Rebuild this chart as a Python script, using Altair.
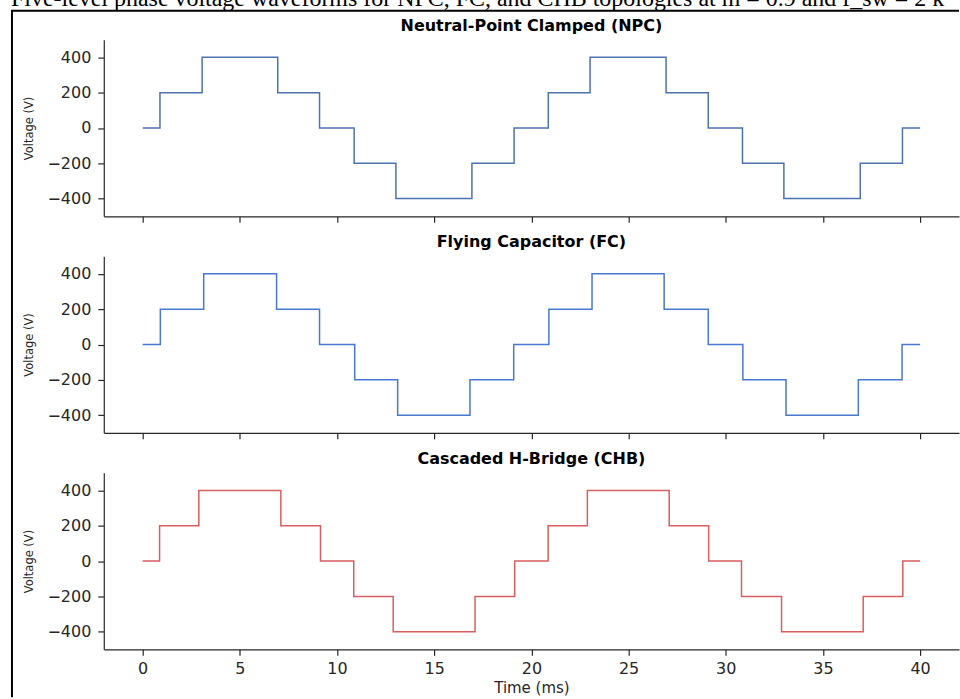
import altair as alt
import pandas as pd

# ---- data ----
t_npc = [0, 0.89, 3.06, 6.95, 9.10, 10.88, 13.03, 16.94, 19.11, 20.87, 23.02, 26.93, 29.10, 30.86, 32.99, 36.92, 39.09, 40]
v_npc = [0, 200, 400, 200, 0, -200, -400, -200, 0, 200, 400, 200, 0, -200, -400, -200, 0, 0]

t_fc = [0, 0.91, 3.14, 6.89, 9.10, 10.91, 13.12, 16.84, 19.09, 20.90, 23.12, 26.83, 29.10, 30.88, 33.10, 36.82, 39.07, 40]
v_fc = [0, 200, 400, 200, 0, -200, -400, -200, 0, 200, 400, 200, 0, -200, -400, -200, 0, 0]

t_chb = [0, 0.87, 2.89, 7.11, 9.15, 10.86, 12.89, 17.10, 19.14, 20.86, 22.88, 27.09, 29.12, 30.81, 32.87, 37.07, 39.11, 40]
v_chb = [0, 200, 400, 200, 0, -200, -400, -200, 0, 200, 400, 200, 0, -200, -400, -200, 0, 0]

titles = ["Neutral-Point Clamped (NPC)", "Flying Capacitor (FC)", "Cascaded H-Bridge (CHB)"]
colors = ["#4c72b0", "#4878d0", "#d65f5f"]
x_ticks = [0, 5, 10, 15, 20, 25, 30, 35, 40]
y_ticks = [-400, -200, 0, 200, 400]
caption = "Five-level phase voltage waveforms for NPC, FC, and CHB topologies at m = 0.9 and f_sw = 2 kHz"

W, H = 857, 177
AX = "#262626"
one = pd.DataFrame({"k": [0]})


def panel(times, volts, color, title, bottom):
    df = pd.DataFrame({"t": times, "v": volts})
    if bottom:
        xaxis = alt.Axis(values=x_ticks, title="Time (ms)", titleFontSize=15, titlePadding=4)
    else:
        xaxis = alt.Axis(values=x_ticks, labels=False, title=None)
    line = alt.Chart(df).mark_line(interpolate="step-after", color=color, strokeWidth=1.5).encode(
        x=alt.X("t:Q", scale=alt.Scale(domain=[-2, 42], nice=False, zero=False), axis=xaxis),
        y=alt.Y("v:Q", scale=alt.Scale(domain=[-500, 500], nice=False, zero=False),
                axis=alt.Axis(values=y_ticks, title="Voltage (V)", titleFontSize=11.5,
                              titlePadding=12, labelPadding=7)),
    )
    ttl = alt.Chart(one).mark_text(text=title, font="DejaVu Sans", fontSize=16, fontWeight="bold",
                                   align="center", baseline="middle", color="black").encode(
        x=alt.value(W / 2), y=alt.value(-14))
    return line, ttl


l1, t1 = panel(t_npc, v_npc, colors[0], titles[0], False)
l2, t2 = panel(t_fc, v_fc, colors[1], titles[1], False)
l3, t3 = panel(t_chb, v_chb, colors[2], titles[2], True)

frame_left = alt.Chart(one).mark_rule(color="black", strokeWidth=2).encode(
    x=alt.value(-92), y=alt.value(-463), y2=alt.value(225))
frame_top = alt.Chart(one).mark_rule(color="black", strokeWidth=2).encode(
    x=alt.value(-93), x2=alt.value(857), y=alt.value(-463))
cap = alt.Chart(one).mark_text(text=caption, align="left", baseline="alphabetic",
                               font="Liberation Serif", fontSize=24, limit=950, ellipsis=" ",
                               color="black").encode(x=alt.value(-93), y=alt.value(-468))

c1 = alt.layer(l1, t1).properties(width=W, height=H)
c2 = alt.layer(l2, t2).properties(width=W, height=H)
c3 = alt.layer(l3, t3, frame_left, frame_top, cap).properties(width=W, height=H)

chart = alt.vconcat(c1, c2, c3, spacing=40, bounds="flush").properties(
    padding={"left": 10, "top": -14, "right": 0, "bottom": 0},
    background="white",
).configure_view(stroke=None).configure_axis(
    grid=False,
    domainColor=AX, domainWidth=1.2,
    tickColor=AX, tickWidth=1.2, tickSize=6,
    labelFont="DejaVu Sans", labelFontSize=16, labelColor=AX, labelPadding=5,
    titleFont="DejaVu Sans", titleFontWeight="normal", titleColor=AX,
)

chart.save("out.html", embed_options={"renderer": "svg", "actions": False})
